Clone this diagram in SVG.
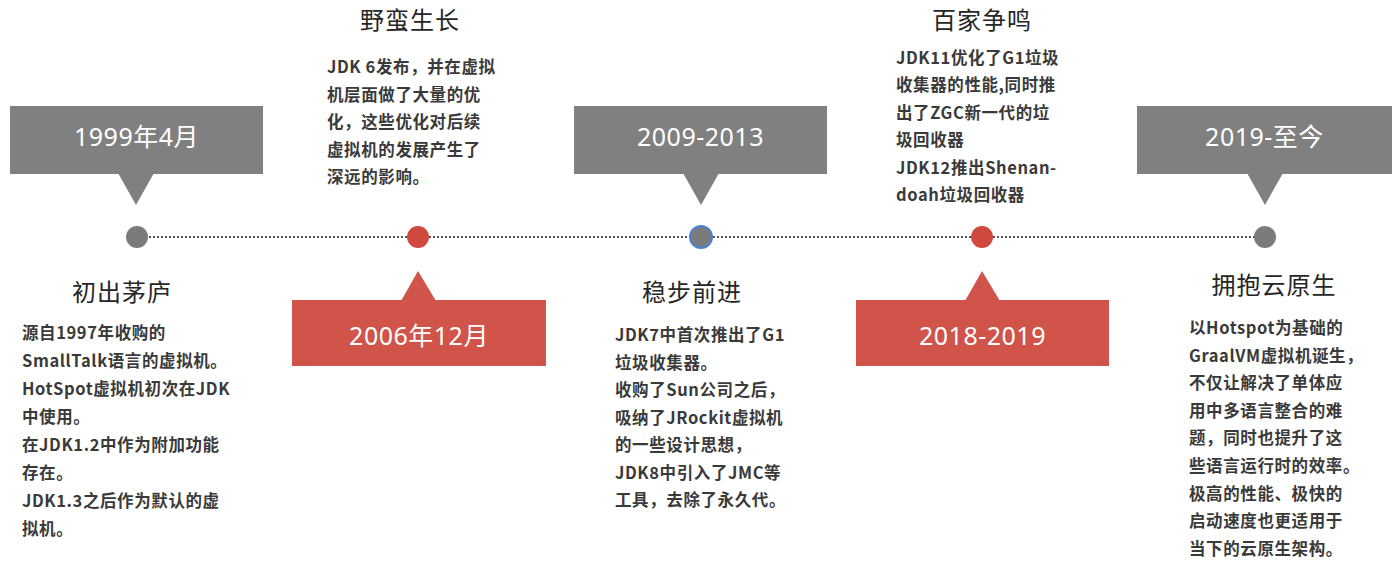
<svg xmlns="http://www.w3.org/2000/svg" width="1398" height="574" viewBox="0 0 1398 574">
<style>
.gbox{fill:#808080}
.rbox{fill:#d0544a}
.lbl{font-family:"Noto Sans","Noto Sans CJK SC",sans-serif;font-size:25px;fill:#ffffff;text-anchor:middle;letter-spacing:0.5px}
.ttl{font-family:"Noto Sans CJK SC",sans-serif;font-size:24px;fill:#262626;text-anchor:middle;letter-spacing:1px}
.body{font-family:"Noto Sans CJK SC",sans-serif;font-size:16.5px;font-weight:700;fill:#3a3a3a;letter-spacing:0.6px}
.gdot{fill:#7b7b7b}
.rdot{fill:#d0493f}
</style>
<g id="connectors">
<line x1="137" y1="237" x2="1265" y2="237" stroke="#555" stroke-width="2" stroke-dasharray="2 2"/>
</g>
<g id="node1">
<rect class="gbox" x="10" y="106" width="253" height="68"/>
<polygon class="gbox" points="118,173 154,173 136,205"/>
<text class="lbl" x="136.5" y="146">1999年4月</text>
<circle class="gdot" cx="137" cy="237" r="11"/>
<text class="ttl" x="122" y="301">初出茅庐</text>
<text class="body" x="22"><tspan x="22" y="339">源自1997年收购的</tspan><tspan x="22" y="367">SmallTalk语言的虚拟机。</tspan><tspan x="22" y="395">HotSpot虚拟机初次在JDK</tspan><tspan x="22" y="423">中使用。</tspan><tspan x="22" y="451">在JDK1.2中作为附加功能</tspan><tspan x="22" y="479">存在。</tspan><tspan x="22" y="507">JDK1.3之后作为默认的虚</tspan><tspan x="22" y="535">拟机。</tspan></text>
</g>
<g id="node2">
<rect class="rbox" x="292" y="300" width="254" height="66"/>
<polygon class="rbox" points="401,301 436,301 418,271"/>
<text class="lbl" x="419" y="345">2006年12月</text>
<circle class="rdot" cx="418" cy="237" r="11"/>
<text class="ttl" x="410" y="29">野蛮生长</text>
<text class="body"><tspan x="327" y="73">JDK 6发布，并在虚拟</tspan><tspan x="327" y="100.5">机层面做了大量的优</tspan><tspan x="327" y="128">化，这些优化对后续</tspan><tspan x="327" y="155.5">虚拟机的发展产生了</tspan><tspan x="327" y="183">深远的影响。</tspan></text>
</g>
<g id="node3">
<rect class="gbox" x="574" y="106" width="253" height="68"/>
<polygon class="gbox" points="683,173 719,173 701,205"/>
<text class="lbl" x="700.5" y="146">2009-2013</text>
<circle class="gdot" cx="701" cy="237" r="11" stroke="#4a80d6" stroke-width="2"/>
<text class="ttl" x="692" y="301">稳步前进</text>
<text class="body"><tspan x="615" y="341">JDK7中首次推出了G1</tspan><tspan x="615" y="368.5">垃圾收集器。</tspan><tspan x="615" y="396">收购了Sun公司之后，</tspan><tspan x="615" y="423.5">吸纳了JRockit虚拟机</tspan><tspan x="615" y="451">的一些设计思想，</tspan><tspan x="615" y="478.5">JDK8中引入了JMC等</tspan><tspan x="615" y="506">工具，去除了永久代。</tspan></text>
</g>
<g id="node4">
<rect class="rbox" x="856" y="300" width="253" height="66"/>
<polygon class="rbox" points="965,301 1000,301 982,271"/>
<text class="lbl" x="982.5" y="345">2018-2019</text>
<circle class="rdot" cx="982" cy="237" r="11"/>
<text class="ttl" x="982" y="29">百家争鸣</text>
<text class="body"><tspan x="896" y="64">JDK11优化了G1垃圾</tspan><tspan x="896" y="91.4">收集器的性能,同时推</tspan><tspan x="896" y="118.8">出了ZGC新一代的垃</tspan><tspan x="896" y="146.2">圾回收器</tspan><tspan x="896" y="173.6">JDK12推出Shenan-</tspan><tspan x="896" y="201">doah垃圾回收器</tspan></text>
</g>
<g id="node5">
<rect class="gbox" x="1137" y="106" width="255" height="68"/>
<polygon class="gbox" points="1247,173 1283,173 1265,205"/>
<text class="lbl" x="1264.5" y="146">2019-至今</text>
<circle class="gdot" cx="1265" cy="237" r="11"/>
<text class="ttl" x="1274" y="294">拥抱云原生</text>
<text class="body"><tspan x="1189" y="334">以Hotspot为基础的</tspan><tspan x="1189" y="361.6">GraalVM虚拟机诞生，</tspan><tspan x="1189" y="389.2">不仅让解决了单体应</tspan><tspan x="1189" y="416.8">用中多语言整合的难</tspan><tspan x="1189" y="444.4">题，同时也提升了这</tspan><tspan x="1189" y="472">些语言运行时的效率。</tspan><tspan x="1189" y="499.6">极高的性能、极快的</tspan><tspan x="1189" y="527.2">启动速度也更适用于</tspan><tspan x="1189" y="554.8">当下的云原生架构。</tspan></text>
</g>
</svg>
